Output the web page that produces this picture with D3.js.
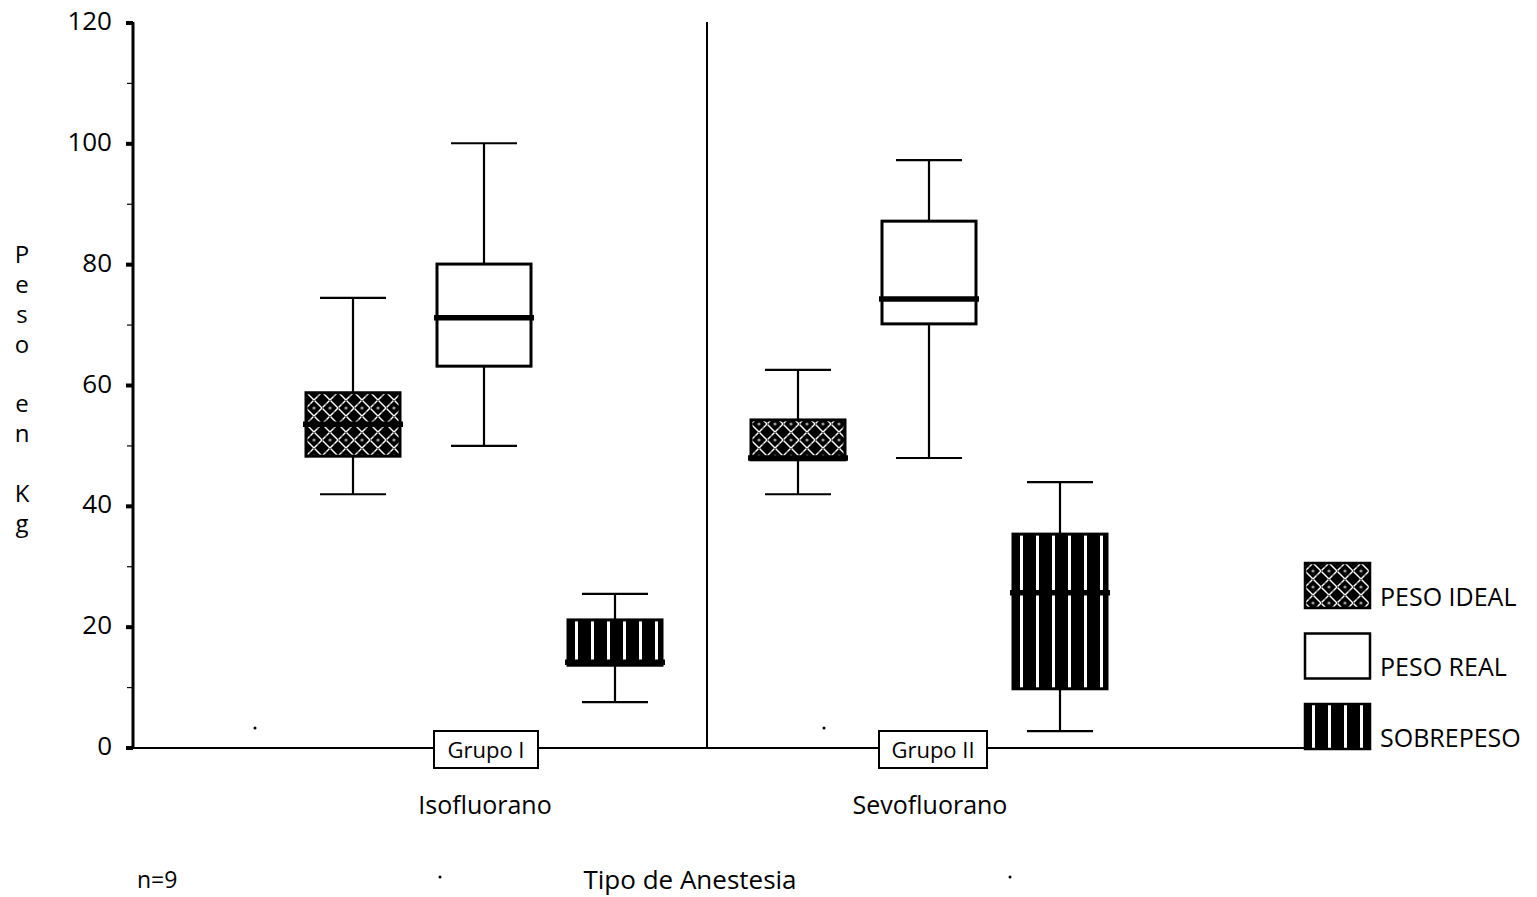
<!DOCTYPE html>
<html>
<head>
<meta charset="utf-8">
<script src="https://cdn.jsdelivr.net/npm/d3@7"></script>
<style>
  html, body { margin: 0; padding: 0; background: #fff; }
  svg { display: block; }
  text { font-family: "Open Sans", "DejaVu Sans", sans-serif; fill: #000; }
</style>
</head>
<body>
<svg id="chart" width="1537" height="897"></svg>
<script>
// ---- data ----
const groups = ["Isofluorano", "Sevofluorano"];
const groupLabels = ["Grupo I", "Grupo II"];
const series = ["PESO IDEAL", "PESO REAL", "SOBREPESO"];
// [min, q1, median, q3, max] for Grupo I, Grupo II
const pesoIdeal = [[42, 48.3, 53.6, 58.8, 74.5], [42, 47.7, 48.0, 54.3, 62.6]];
const pesoReal  = [[50, 63.2, 71.2, 80.1, 100.1], [48, 70.2, 74.3, 87.2, 97.3]];
const sobrepeso = [[7.6, 13.7, 14.2, 21.2, 25.5], [2.8, 9.8, 25.7, 35.4, 44.0]];
const yTicks = [0, 20, 40, 60, 80, 100, 120];
const yMinorTicks = [10, 30, 50, 70, 90, 110];
const yLabelLetters = ["P", "e", "s", "o", "", "e", "n", "", "K", "g"];
const xTitle = "Tipo de Anestesia";
const nNote = "n=9";

const seriesData = [pesoIdeal, pesoReal, sobrepeso];
const fills = ["url(#ideal)", "#fff", "url(#stripes)"];

const svg = d3.select("#chart");

// ---- patterns ----
const defs = svg.append("defs");
const pi = defs.append("pattern").attr("id", "ideal").attr("patternUnits", "userSpaceOnUse")
  .attr("width", 16).attr("height", 16);
pi.append("rect").attr("width", 16).attr("height", 16).attr("fill", "#fff");
const dia = (cx, cy, r) => `M${cx},${cy - r}L${cx + r},${cy}L${cx},${cy + r}L${cx - r},${cy}Z`;
pi.append("path").attr("d", [dia(8, 8, 7), dia(0, 0, 7), dia(16, 0, 7), dia(0, 16, 7), dia(16, 16, 7)].join(""))
  .attr("fill", "#000");
pi.append("circle").attr("cx", 8).attr("cy", 8).attr("r", 1.6).attr("fill", "#999");
pi.append("circle").attr("cx", 8).attr("cy", 0).attr("r", 1.2).attr("fill", "#666");
pi.append("circle").attr("cx", 0).attr("cy", 8).attr("r", 1.2).attr("fill", "#666");
pi.append("circle").attr("cx", 4).attr("cy", 4).attr("r", 0.8).attr("fill", "#444");
pi.append("circle").attr("cx", 12).attr("cy", 12).attr("r", 0.8).attr("fill", "#444");

const ps = defs.append("pattern").attr("id", "stripes").attr("patternUnits", "userSpaceOnUse")
  .attr("width", 16).attr("height", 16);
ps.append("rect").attr("width", 16).attr("height", 16).attr("fill", "#000");
ps.append("rect").attr("x", 7).attr("width", 3).attr("height", 16).attr("fill", "#fff");

// ---- scales ----
const y = d3.scaleLinear().domain([0, 120]).range([748, 23]);
const x0 = d3.scalePoint().domain(groups).range([484, 929]);
const x1 = d3.scalePoint().domain(series).range([-131, 131]);
const boxW = 94, capW = 66;

// ---- axes ----
const axisX = 133;
svg.append("line").attr("x1", axisX).attr("x2", axisX).attr("y1", y(120) - 1).attr("y2", y(0) + 1)
  .attr("stroke", "#000").attr("stroke-width", 3);
svg.append("line").attr("x1", 130).attr("x2", 1305).attr("y1", y(0)).attr("y2", y(0))
  .attr("stroke", "#000").attr("stroke-width", 2);
// divider between groups
svg.append("line").attr("x1", 707).attr("x2", 707).attr("y1", y(120) - 1).attr("y2", y(0))
  .attr("stroke", "#000").attr("stroke-width", 2);

svg.selectAll(".majtick").data(yTicks).join("line")
  .attr("x1", axisX - 7).attr("x2", axisX).attr("y1", d => y(d)).attr("y2", d => y(d))
  .attr("stroke", "#000").attr("stroke-width", 4);
svg.selectAll(".mintick").data(yMinorTicks).join("line")
  .attr("x1", axisX - 6).attr("x2", axisX).attr("y1", d => y(d)).attr("y2", d => y(d))
  .attr("stroke", "#000").attr("stroke-width", 1.2);
svg.selectAll(".ticklabel").data(yTicks).join("text")
  .attr("x", 112).attr("y", d => y(d) - 2).attr("dy", "0.35em")
  .attr("text-anchor", "end").attr("font-size", 26).text(d => d);

// y label (stacked letters)
svg.selectAll(".ylab").data(yLabelLetters).join("text")
  .attr("x", 22).attr("y", (d, i) => 255 + i * 29.8).attr("dy", "0.35em")
  .attr("text-anchor", "middle").attr("font-size", 24).text(d => d);

// ---- boxes ----
groups.forEach((g, gi) => {
  series.forEach((s, si) => {
    const [mn, q1, med, q3, mx] = seriesData[si][gi];
    const cx = x0(g) + x1(s);
    const grp = svg.append("g").attr("transform", `translate(${cx - boxW / 2},0)`);
    // whiskers
    grp.append("line").attr("x1", boxW / 2).attr("x2", boxW / 2).attr("y1", y(mx)).attr("y2", y(mn))
      .attr("stroke", "#000").attr("stroke-width", 2.2);
    grp.append("line").attr("x1", (boxW - capW) / 2).attr("x2", (boxW + capW) / 2)
      .attr("y1", y(mx)).attr("y2", y(mx)).attr("stroke", "#000").attr("stroke-width", 2.2);
    grp.append("line").attr("x1", (boxW - capW) / 2).attr("x2", (boxW + capW) / 2)
      .attr("y1", y(mn)).attr("y2", y(mn)).attr("stroke", "#000").attr("stroke-width", 2.2);
    // box
    grp.append("rect").attr("x", 0).attr("y", y(q3)).attr("width", boxW).attr("height", y(q1) - y(q3))
      .attr("fill", fills[si]).attr("stroke", "#000").attr("stroke-width", 3);
    // median
    grp.append("line").attr("x1", -3).attr("x2", boxW + 3).attr("y1", y(med)).attr("y2", y(med))
      .attr("stroke", "#000").attr("stroke-width", 5.5);
  });
  // group label box on the x axis
  const gc = x0(g) + 2 * gi + 2;
  const lbl = svg.append("g");
  lbl.append("rect").attr("x", gc - 52 - 2 * gi).attr("y", 731).attr("width", 104 + 4 * gi).attr("height", 37)
    .attr("fill", "#fff").attr("stroke", "#000").attr("stroke-width", 2);
  lbl.append("text").attr("x", gc).attr("y", 750).attr("dy", "0.35em").attr("text-anchor", "middle")
    .attr("font-size", 22).text(groupLabels[gi]);
  svg.append("text").attr("x", x0(g) + 1).attr("y", 805).attr("dy", "0.35em").attr("text-anchor", "middle")
    .attr("font-size", 25).text(g);
});

// ---- titles / notes ----
svg.append("text").attr("x", 690).attr("y", 880).attr("dy", "0.35em").attr("text-anchor", "middle")
  .attr("font-size", 26).text(xTitle);
svg.append("text").attr("x", 137).attr("y", 880).attr("dy", "0.35em").attr("text-anchor", "start")
  .attr("font-size", 23).text(nNote);
// small specks present in the scan
[[255, 728], [824, 728], [440, 877], [1010, 877]].forEach(([px, py]) =>
  svg.append("circle").attr("cx", px).attr("cy", py).attr("r", 1.5).attr("fill", "#000"));

// ---- legend ----
const leg = svg.append("g");
series.forEach((s, i) => {
  const ly = 563 + i * 70.5;
  const lg = leg.append("g").attr("transform", `translate(1305,${ly})`);
  lg.append("rect").attr("width", 65).attr("height", 45).attr("fill", fills[i])
    .attr("stroke", "#000").attr("stroke-width", 2.5);
  lg.append("text").attr("x", 75).attr("y", 34).attr("dy", "0.35em").attr("font-size", 25).text(s);
});
</script>
</body>
</html>
